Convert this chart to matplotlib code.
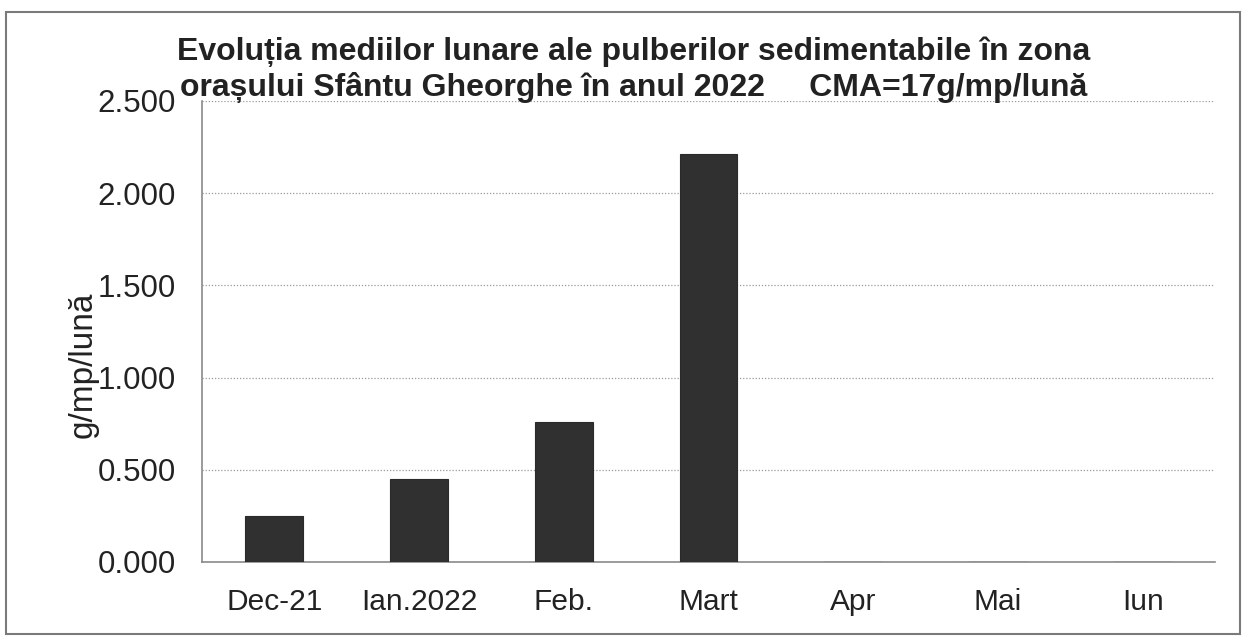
import matplotlib
matplotlib.use("Agg")
import matplotlib.pyplot as plt
from matplotlib.patches import Rectangle

categories = ["Dec-21", "Ian.2022", "Feb.", "Mart", "Apr", "Mai", "Iun"]
values = [0.25, 0.45, 0.76, 2.21, 0, 0, 0]
yticks = [0.0, 0.5, 1.0, 1.5, 2.0, 2.5]
ytick_labels = ["0.000", "0.500", "1.000", "1.500", "2.000", "2.500"]
title = ("Evoluția mediilor lunare ale pulberilor sedimentabile în zona\n"
         "orașului Sfântu Gheorghe în anul 2022     CMA=17g/mp/lună")
ylabel = "g/mp/lună"

plt.rcParams['font.family'] = ['Liberation Sans', 'DejaVu Sans']
txt = "#222222"

fig = plt.figure(figsize=(12.45, 6.36), dpi=100)
fig.patch.set_facecolor("white")
ax = fig.add_axes([0.1622, 0.1164, 0.8137, 0.7248])

x = list(range(len(categories)))
ax.bar(x, values, width=0.4, color="#303030", edgecolor="#2a2a2a", linewidth=0.8, zorder=3)
ax.set_xlim(-0.5, len(categories) - 0.5)
ax.set_ylim(0, 2.5)
ax.set_yticks(yticks)
ax.set_yticklabels(ytick_labels, fontsize=22.5, color=txt)
ax.set_xticks(x)
ax.set_xticklabels(categories, fontsize=21.5, color=txt)
ax.tick_params(axis='y', length=0, pad=19)
ax.tick_params(axis='x', length=0, pad=19)
ax.grid(axis='y', linestyle=(0, (1, 1.5)), color="#9a9a9a", linewidth=0.9, zorder=0)
for s in ["top", "right"]:
    ax.spines[s].set_visible(False)
for s in ["left", "bottom"]:
    ax.spines[s].set_color("#8a8a8a")
    ax.spines[s].set_linewidth(1.2)

fig.text(83 / 1245, 1 - 365 / 636, ylabel, rotation=90, ha="center", va="center",
         fontsize=24, color=txt)

fig.text(634 / 1245, 1 - 70 / 636, title, ha="center", va="center", fontsize=23,
         fontweight="bold", color=txt, linespacing=1.22, multialignment="center")

fig.patches.append(Rectangle((6 / 1245, 2 / 636), 1234 / 1245, 622 / 636,
                             transform=fig.transFigure, fill=False,
                             edgecolor="#7a7a7a", linewidth=1.5))

fig.savefig("out.png", dpi=100)
